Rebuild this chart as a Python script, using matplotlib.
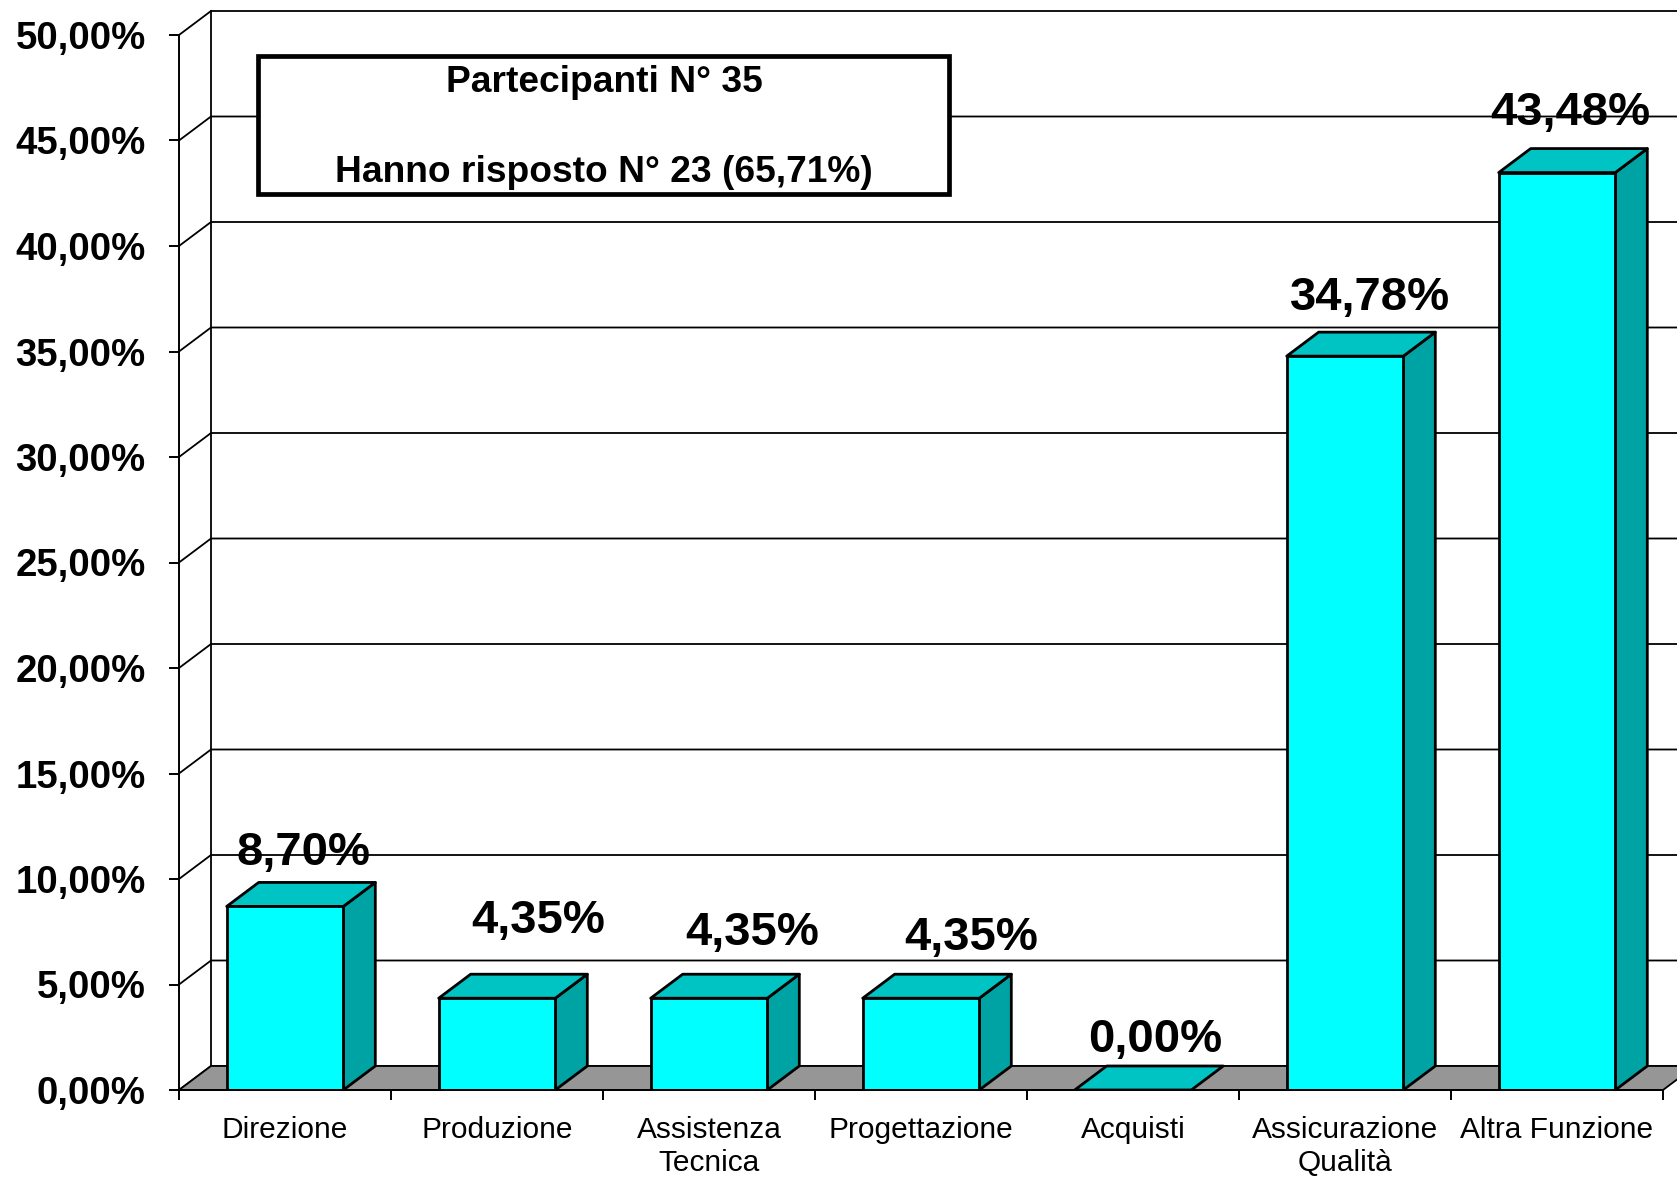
import matplotlib
matplotlib.use('Agg')
import matplotlib.pyplot as plt
from matplotlib.patches import Polygon, Rectangle
from matplotlib.ticker import FuncFormatter

plt.rcParams['font.family'] = ['Liberation Sans', 'DejaVu Sans']

# data
categories = ['Direzione', 'Produzione', 'Assistenza\nTecnica', 'Progettazione',
              'Acquisti', 'Assicurazione\nQualità', 'Altra Funzione']
values = [8.70, 4.35, 4.35, 4.35, 0.00, 34.78, 43.48]
box_lines = ['Partecipanti N° 35', 'Hanno risposto N° 23 (65,71%)']

# layout of the value labels (pixel offsets, as placed in the original)
label_dx = [18, 41, 43, 50, 22, 25, 13]
label_dy = [53, 77, 65, 60, 50, 58, 60]

FRONT = '#00FFFF'
TOP = '#00C4C4'
SIDE = '#00A3A3'
FLOOR = '#969696'

W, H = 1677, 1177
fig = plt.figure(figsize=(W / 100, H / 100), dpi=100)
ax = fig.add_axes([179 / W, 87 / H, 1484 / W, 1055 / H])
ax.set_xlim(0, len(categories))
ax.set_ylim(0, 50)

# 3d depth in data units
dx = 32 / 212
dy = 24 / 21.1
bw = 0.55
n = len(categories)

# back wall and left side wall grid
for g in range(0, 51, 5):
    ax.plot([0, dx, n + dx + 1], [g, g + dy, g + dy], color='black', lw=1.3,
            zorder=1, clip_on=False, solid_capstyle='butt')
ax.plot([dx, dx], [dy, 50 + dy], color='black', lw=1.3, zorder=1, clip_on=False)

# floor
ax.add_patch(Polygon([(0, 0), (n, 0), (n + dx, dy), (dx, dy)], closed=True,
                     facecolor=FLOOR, edgecolor='black', lw=1.3, zorder=2,
                     clip_on=False))

# bars
for i, v in enumerate(values):
    x0 = i + (1 - bw) / 2
    x1 = x0 + bw
    if v > 0:
        ax.add_patch(Polygon([(x1, 0), (x1 + dx, dy), (x1 + dx, v + dy), (x1, v)],
                             closed=True, facecolor=SIDE, edgecolor='black',
                             lw=2, zorder=3, joinstyle='round'))
    ax.add_patch(Polygon([(x0, v), (x1, v), (x1 + dx, v + dy), (x0 + dx, v + dy)],
                         closed=True, facecolor=TOP, edgecolor='black',
                         lw=2, zorder=3, joinstyle='round'))
    if v > 0:
        ax.add_patch(Rectangle((x0, 0), bw, v, facecolor=FRONT, edgecolor='black',
                               lw=2, zorder=4))
    ax.annotate(f'{v:.2f}'.replace('.', ',') + '%', (i + 0.5, v),
                xytext=(label_dx[i], label_dy[i]), textcoords='offset pixels',
                ha='center', va='center', fontsize=34, fontweight='bold',
                zorder=6, annotation_clip=False)

# axes
for s in ['top', 'right']:
    ax.spines[s].set_visible(False)
for s in ['left', 'bottom']:
    ax.spines[s].set_linewidth(1.4)
    ax.spines[s].set_zorder(5)
ax.set_facecolor('none')

ax.set_yticks(range(0, 51, 5))
ax.yaxis.set_major_formatter(FuncFormatter(lambda v, p: f'{v:.2f}'.replace('.', ',') + '%'))
ax.tick_params(axis='y', direction='out', length=7, width=1.4, pad=17,
               labelsize=27.6, colors='black')
for t in ax.get_yticklabels():
    t.set_fontweight('bold')

ax.set_xticks(range(0, n + 1))
ax.set_xticklabels([])
ax.set_xticks([i + 0.5 for i in range(n)], minor=True)
ax.set_xticklabels(categories, minor=True, fontsize=21.5, linespacing=1.2)
ax.tick_params(axis='x', which='major', direction='out', length=7, width=1.4)
ax.tick_params(axis='x', which='minor', length=0, pad=19)

# info box
fig.patches.append(Rectangle((258 / W, 1 - 194 / H), 691 / W, 138 / H,
                             transform=fig.transFigure, facecolor='white',
                             edgecolor='black', lw=3.4, zorder=10))
fig.text(604 / W, 1 - 83 / H, box_lines[0], ha='center', va='center',
         fontsize=26.7, fontweight='bold', zorder=11)
fig.text(604 / W, 1 - 172 / H, box_lines[1], ha='center', va='center',
         fontsize=26.7, fontweight='bold', zorder=11)

fig.savefig('out.png', dpi=100)
